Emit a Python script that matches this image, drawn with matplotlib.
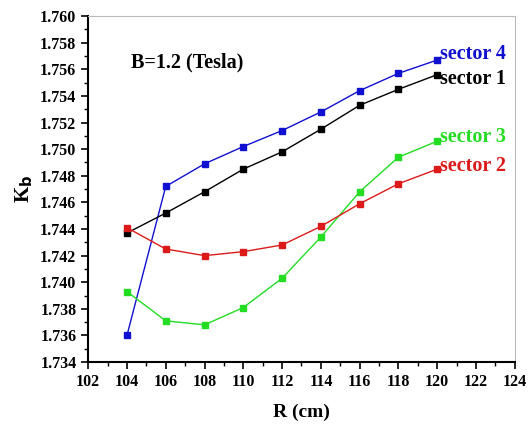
import numpy as np
import matplotlib
matplotlib.use('Agg')
import matplotlib.pyplot as plt
from matplotlib.ticker import MultipleLocator, FormatStrFormatter

plt.rcParams['font.family'] = ['Liberation Serif', 'DejaVu Serif']
plt.rcParams['font.weight'] = 'bold'

##############
#data#
##############
R = [104, 106, 108, 110, 112, 114, 116, 118, 120]
sector1 = [1.7437, 1.7452, 1.7468, 1.7485, 1.7498, 1.7515, 1.7533, 1.7545, 1.7556]
sector2 = [1.7441, 1.7425, 1.7420, 1.7423, 1.7428, 1.7442, 1.7459, 1.7474, 1.7485]
sector3 = [1.7393, 1.7371, 1.7368, 1.7381, 1.7403, 1.7434, 1.7468, 1.7494, 1.7506]
sector4 = [1.7360, 1.7472, 1.7489, 1.7502, 1.7514, 1.7528, 1.7544, 1.7557, 1.7567]

series = [('sector 4', sector4, '#1010d0', 0.00045),
          ('sector 1', sector1, 'black', -0.0003),
          ('sector 3', sector3, '#22dd22', 0.0003),
          ('sector 2', sector2, '#dd1a1a', 0.00025)]

fig = plt.figure(figsize=(5.28, 4.24), dpi=100)
ax = fig.add_axes([0.167, 0.146, 0.808, 0.816])

for name, vals, col, dy in series:
    ax.plot(R, vals, color=col, lw=1.0, marker='s', ms=4.5, mec=col, mfc=col)
    ax.text(R[-1] + 0.15, vals[-1] + dy, name, color=col, fontsize=14.5,
            fontweight='bold', va='center', ha='left')

ax.text(104.2, 1.7565, 'B=1.2 (Tesla)', fontsize=14.5, fontweight='bold',
        va='center', ha='left')

ax.set_xlim(102, 124)
ax.set_ylim(1.734, 1.760)
ax.xaxis.set_major_locator(MultipleLocator(2))
ax.xaxis.set_minor_locator(MultipleLocator(1))
ax.yaxis.set_major_locator(MultipleLocator(0.002))
ax.yaxis.set_minor_locator(MultipleLocator(0.001))
ax.yaxis.set_major_formatter(FormatStrFormatter('%.3f'))
ax.tick_params(which='major', direction='out', length=5, width=1.2, labelsize=11.5)
ax.tick_params(which='minor', direction='out', length=3, width=1.0)
for lab in ax.get_xticklabels() + ax.get_yticklabels():
    lab.set_fontweight('bold')

ax.spines['left'].set_linewidth(1.5)
ax.spines['bottom'].set_linewidth(1.5)
ax.spines['top'].set_color('#bbbbbb')
ax.spines['right'].set_color('#bbbbbb')

ax.set_xlabel('R (cm)', fontsize=14, fontweight='bold', labelpad=10)
ax.set_ylabel(r'K$_\mathbf{b}$', fontsize=15, fontweight='bold', labelpad=4)

plt.savefig('out.png', dpi=100)
